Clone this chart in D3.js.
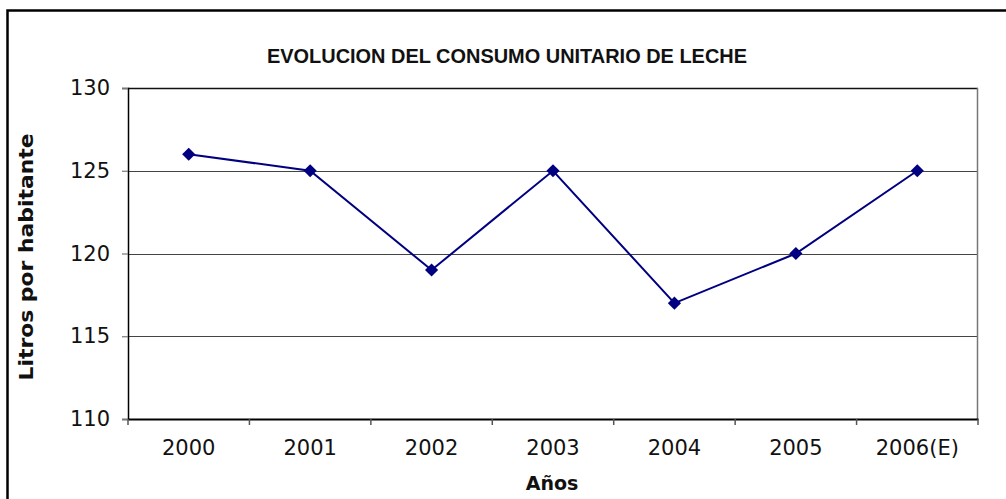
<!DOCTYPE html>
<html>
<head>
<meta charset="utf-8">
<script src="https://cdn.jsdelivr.net/npm/d3@7"></script>
<style>
  html, body { margin: 0; padding: 0; background: #fff; }
  svg { display: block; }
</style>
</head>
<body>
<svg id="chart" width="1006" height="499"></svg>
<script>
// Consumo unitario de leche por año (litros por habitante)
const years = ["2000", "2001", "2002", "2003", "2004", "2005", "2006(E)"];
const litros = [126, 125, 119, 125, 117, 120, 125];
const yTicks = [110, 115, 120, 125, 130];

const title = "EVOLUCION DEL CONSUMO UNITARIO DE LECHE";
const yTitle = "Litros por habitante";
const xTitle = "Años";

const W = 1006, H = 499;
const plot = { left: 128, top: 88, right: 978, bottom: 419 };

const svg = d3.select("#chart");

// Outer chart frame (runs off the right and bottom edges)
svg.append("rect")
  .attr("x", 7.5).attr("y", 10.5)
  .attr("width", 1010).attr("height", 500)
  .attr("fill", "#fff")
  .attr("stroke", "#000").attr("stroke-width", 2.5);

const x = d3.scaleBand().domain(years).range([plot.left, plot.right]);
const y = d3.scaleLinear().domain([110, 130]).range([plot.bottom, plot.top]);

// Gridlines
svg.append("g")
  .selectAll("line")
  .data(yTicks.filter(t => t > 110 && t < 130))
  .join("line")
  .attr("x1", plot.left).attr("x2", plot.right)
  .attr("y1", d => Math.round(y(d)) + 0.5).attr("y2", d => Math.round(y(d)) + 0.5)
  .attr("stroke", "#444").attr("stroke-width", 1.2);

// Plot border: top black, right gray
svg.append("line")
  .attr("x1", plot.left).attr("x2", plot.right)
  .attr("y1", y(130) + 0.5).attr("y2", y(130) + 0.5)
  .attr("stroke", "#111").attr("stroke-width", 1.5);
svg.append("line")
  .attr("x1", plot.right - 0.5).attr("x2", plot.right - 0.5)
  .attr("y1", plot.top).attr("y2", plot.bottom)
  .attr("stroke", "#777").attr("stroke-width", 1.5);

// Y axis
const yAxis = svg.append("g")
  .attr("transform", `translate(${plot.left},0)`)
  .call(d3.axisLeft(y).tickValues(yTicks).tickSize(6).tickPadding(12).tickFormat(d3.format("d")));
yAxis.select(".domain").attr("stroke", "#000").attr("stroke-width", 1.5);
yAxis.selectAll(".tick line").attr("stroke", "#777").attr("stroke-width", 1.2);
yAxis.selectAll(".tick text")
  .attr("font-family", "DejaVu Sans, Verdana, sans-serif")
  .attr("font-size", 21).attr("fill", "#111");

// X axis with tick marks at category boundaries
const xAxis = svg.append("g")
  .attr("transform", `translate(0,${plot.bottom})`)
  .call(d3.axisBottom(x).tickSize(0).tickPadding(21));
xAxis.select(".domain").attr("stroke", "#000").attr("stroke-width", 2);
xAxis.selectAll(".tick text")
  .attr("font-family", "DejaVu Sans, Verdana, sans-serif")
  .attr("font-size", 21).attr("fill", "#111");
const bounds = years.map(d => x(d)).concat([x(years[years.length - 1]) + x.bandwidth()]);
xAxis.append("g")
  .selectAll("line")
  .data(bounds)
  .join("line")
  .attr("x1", d => d).attr("x2", d => d)
  .attr("y1", 0).attr("y2", 6)
  .attr("stroke", "#555").attr("stroke-width", 1.5);

// Series line
const cx = d => x(d) + x.bandwidth() / 2;
svg.append("path")
  .datum(years.map((d, i) => [cx(d), y(litros[i])]))
  .attr("d", d3.line())
  .attr("fill", "none")
  .attr("stroke", "#000080")
  .attr("stroke-width", 2);

// Diamond markers
svg.append("g")
  .selectAll("path")
  .data(years.map((d, i) => ({ year: d, v: litros[i] })))
  .join("path")
  .attr("transform", d => `translate(${cx(d.year)},${y(d.v)})`)
  .attr("d", d3.symbol(d3.symbolDiamond2, 110))
  .attr("fill", "#000080");

// Titles
svg.append("text")
  .attr("x", 507).attr("y", 63)
  .attr("text-anchor", "middle")
  .attr("font-family", "Liberation Sans, Arial, sans-serif")
  .attr("font-weight", "bold").attr("font-size", 21)
  .attr("textLength", 480).attr("lengthAdjust", "spacingAndGlyphs")
  .attr("fill", "#111")
  .text(title);

svg.append("text")
  .attr("transform", "translate(33,257) rotate(-90)")
  .attr("text-anchor", "middle")
  .attr("font-family", "DejaVu Sans, Verdana, sans-serif")
  .attr("font-weight", "bold").attr("font-size", 19)
  .attr("textLength", 247).attr("lengthAdjust", "spacingAndGlyphs")
  .attr("fill", "#111")
  .text(yTitle);

svg.append("text")
  .attr("x", 552).attr("y", 490)
  .attr("text-anchor", "middle")
  .attr("font-family", "DejaVu Sans, Verdana, sans-serif")
  .attr("font-weight", "bold").attr("font-size", 19)
  .attr("fill", "#111")
  .text(xTitle);
</script>
</body>
</html>
